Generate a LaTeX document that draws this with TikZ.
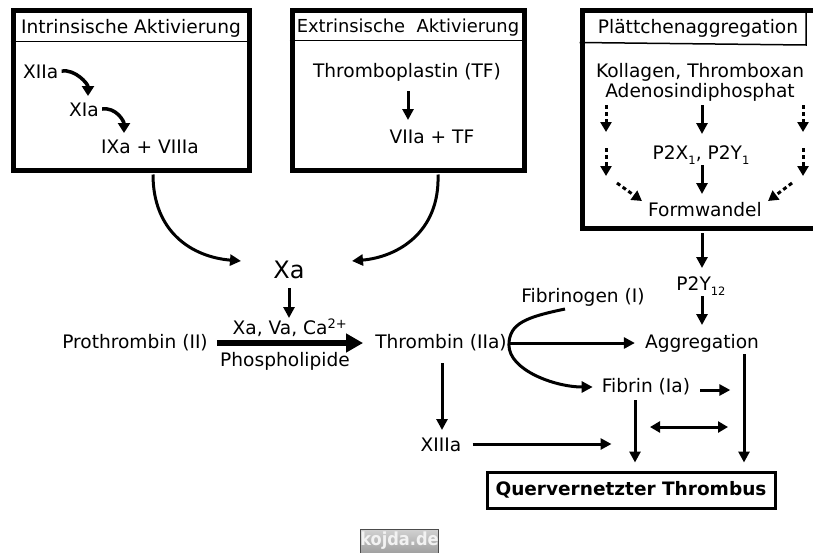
\documentclass[tikz,border=0pt]{standalone}
\usepackage{fontspec}
\setmainfont{DejaVu Sans}
\newfontfamily\wmfont{DejaVu Sans Condensed}
\usetikzlibrary{arrows.meta,calc}
\newcommand{\lowsub}[1]{\raisebox{-4.5pt}{\fontsize{11.5}{12}\selectfont #1}}
\begin{document}
\begin{tikzpicture}[x=1pt,y=-1pt,
  lbl/.style={font=\fontsize{18.6}{22}\selectfont, inner sep=0pt, anchor=center},
  frame/.style={draw, line width=5pt, inner sep=0pt},
  hdr/.style={line width=1.5pt},
  arr/.style={line width=3pt, -{Triangle[length=11pt,width=11pt]}},
  darr/.style={line width=3pt, dash pattern=on 4pt off 3pt, -{Triangle[length=10pt,width=11pt]}},
  carr/.style={line width=3.5pt, -{Triangle[length=10pt,width=12pt]}},
  thickarr/.style={line width=6pt, -{Triangle[length=17pt,width=18pt]}},
  dblarr/.style={line width=3pt, {Triangle[length=10pt,width=11pt]}-{Triangle[length=10pt,width=11pt]}},
  plain/.style={line width=3pt}
]
\useasboundingbox (0,0) rectangle (813,552);

% ---------- Box 1 : intrinsic ----------
\node[frame, minimum width=236pt, minimum height=160pt] (b1) at (131,90) {};
\draw[hdr] ([yshift=-34pt]b1.north west) -- ([yshift=-34pt]b1.north east);
\node[lbl] (h1) at (131,28) {Intrinsische Aktivierung};
\node[lbl, anchor=west] (xiia) at (23,72) {XIIa};
\node[lbl, anchor=west] (xia) at (69,110) {XIa};
\node[lbl, anchor=west] (ixa) at (101,147) {IXa + VIIIa};
\coordinate (t1) at (88,96);
\coordinate (t2) at (124,133);
\draw[carr] ($(xiia.east)+(3,-1)$) .. controls +(14,-2) and +(0,-12) .. (t1);
\draw[carr] ($(xia.east)+(3,-1)$) .. controls +(14,-2) and +(0,-12) .. (t2);

% ---------- Box 2 : extrinsic ----------
\node[frame, minimum width=232pt, minimum height=160pt] (b2) at (408,90) {};
\draw[hdr] ([yshift=-33pt]b2.north west) -- ([yshift=-33pt]b2.north east);
\node[lbl, font=\fontsize{17.9}{21}\selectfont] (h2) at (408,28) {Extrinsische\ \ Aktivierung};
\node[lbl] (tf) at (407,72) {Thromboplastin (TF)};
\node[lbl] (vii) at (432,137) {VIIa + TF};
\draw[arr] ($(tf.center)+(1,19)$) -- ($(tf.center)+(1,48)$);

% ---------- Box 3 : platelets ----------
\node[frame, minimum width=234pt, minimum height=218pt] (b3) at (699,119) {};
\draw[hdr] ([yshift=-35pt]b3.north west) -- (806,45) -- (806,12);
\node[lbl] (h3) at (698,28) {Plättchenaggregation};
\node[lbl] (kol) at (700,72) {Kollagen, Thromboxan};
\node[lbl] (adp) at (700,92) {Adenosindiphosphat};
\node[lbl] (p2x) at (701,155) {P2X\lowsub{1}, P2Y\lowsub{1}};
\node[lbl] (form) at (705,210) {Formwandel};
\draw[arr] ($(adp.center)+(2,13)$) -- ($(p2x.center)+(1,-21)$);
\draw[arr] ($(p2x.center)+(1,10)$) -- ($(form.center)+(-3,-16)$);
\draw[darr] ($(adp.center)+(-94,13)$) -- ($(adp.center)+(-94,40)$);
\draw[darr] ($(p2x.center)+(-95,-7)$) -- ($(p2x.center)+(-95,21)$);
\draw[darr] ($(form.west)+(-31,-27)$) -- ($(form.west)+(-6,-9)$);
\draw[darr] ($(adp.center)+(103,13)$) -- ($(adp.center)+(103,40)$);
\draw[darr] ($(p2x.center)+(102,-7)$) -- ($(p2x.center)+(102,21)$);
\draw[darr] ($(form.east)+(30,-27)$) -- ($(form.east)+(6,-9)$);

% ---------- Middle ----------
\node[lbl, font=\fontsize{24}{28}\selectfont] (xa) at (289,270) {Xa};
\draw[arr] ($(b1.south)+(22,2)$) .. controls (153,232) and (192,257) .. ($(xa.center)+(-48,-9)$);
\draw[arr] ($(b2.south)+(30,2)$) .. controls (440,232) and (398,257) .. ($(xa.center)+(63,-9)$);
\draw[arr] ($(xa.center)+(0,18)$) -- ($(xa.center)+(0,48)$);
\node[lbl] (xva) at (290,328) {Xa, Va, Ca\textsuperscript{2+}};
\node[lbl] (phos) at (285,361) {Phospholipide};
\node[lbl] (pro) at (135,343) {Prothrombin (II)};
\node[lbl] (thr) at (441,343) {Thrombin (IIa)};
\draw[thickarr] ($(pro.east)+(9,0)$) -- ($(thr.west)+(-12,0)$);

% ---------- Right lower ----------
\node[lbl] (p2y) at (701,286) {P2Y\lowsub{12}};
\node[lbl] (agg) at (702,343) {Aggregation};
\node[lbl] (fib) at (583,297) {Fibrinogen (I)};
\node[lbl] (fibr) at (646,387) {Fibrin (Ia)};
\node[lbl] (xiii) at (441,445) {XIIIa};
\node[draw, line width=3pt, minimum width=288pt, minimum height=36pt, inner sep=0pt,
      font=\bfseries\fontsize{18.5}{21}\selectfont] (qt) at (631,490) {Quervernetzter Thrombus};

\draw[arr] ($(p2y.center)+(1,-53)$) -- ($(p2y.center)+(1,-18)$);
\draw[arr] ($(p2y.center)+(1,10)$) -- ($(agg.center)+(0,-18)$);
\draw[arr] ($(thr.east)+(2,0)$) -- ($(agg.west)+(-10,0)$);
\draw[arr] ($(fib.center)+(-18,12)$) .. controls +(-38,8) and +(0,-22) .. ($(thr.east)+(2,2)$)
           .. controls +(0,25) and +(-38,0) .. ($(fibr.west)+(-9,0)$);
\draw[arr] ($(thr.center)+(1,20)$) -- ($(xiii.center)+(1,-15)$);
\draw[arr] ($(xiii.east)+(11,-1)$) -- ($(xiii.east)+(150,-1)$);
\draw[arr] ($(fibr.east)+(10,3)$) -- ($(fibr.east)+(40,3)$);
\draw[dblarr] ($(fibr.center)+(4,40)$) -- ($(fibr.center)+(82,40)$);
\draw[arr] ($(fibr.center)+(-11,13)$) -- ($(qt.north)+(4,-8)$);
\draw[arr] ($(agg.center)+(42,11)$) -- ($(qt.north)+(113,-8)$);

% ---------- watermark ----------
\node[draw=black!70, line width=0.8pt, top color=gray!35, bottom color=gray!75,
      minimum width=71pt, minimum height=24pt, inner sep=0pt, text=gray!10,
      font=\wmfont\bfseries\fontsize{18}{20}\selectfont] (wm) at (399.5,541) {kojda.de};
\end{tikzpicture}
\end{document}
